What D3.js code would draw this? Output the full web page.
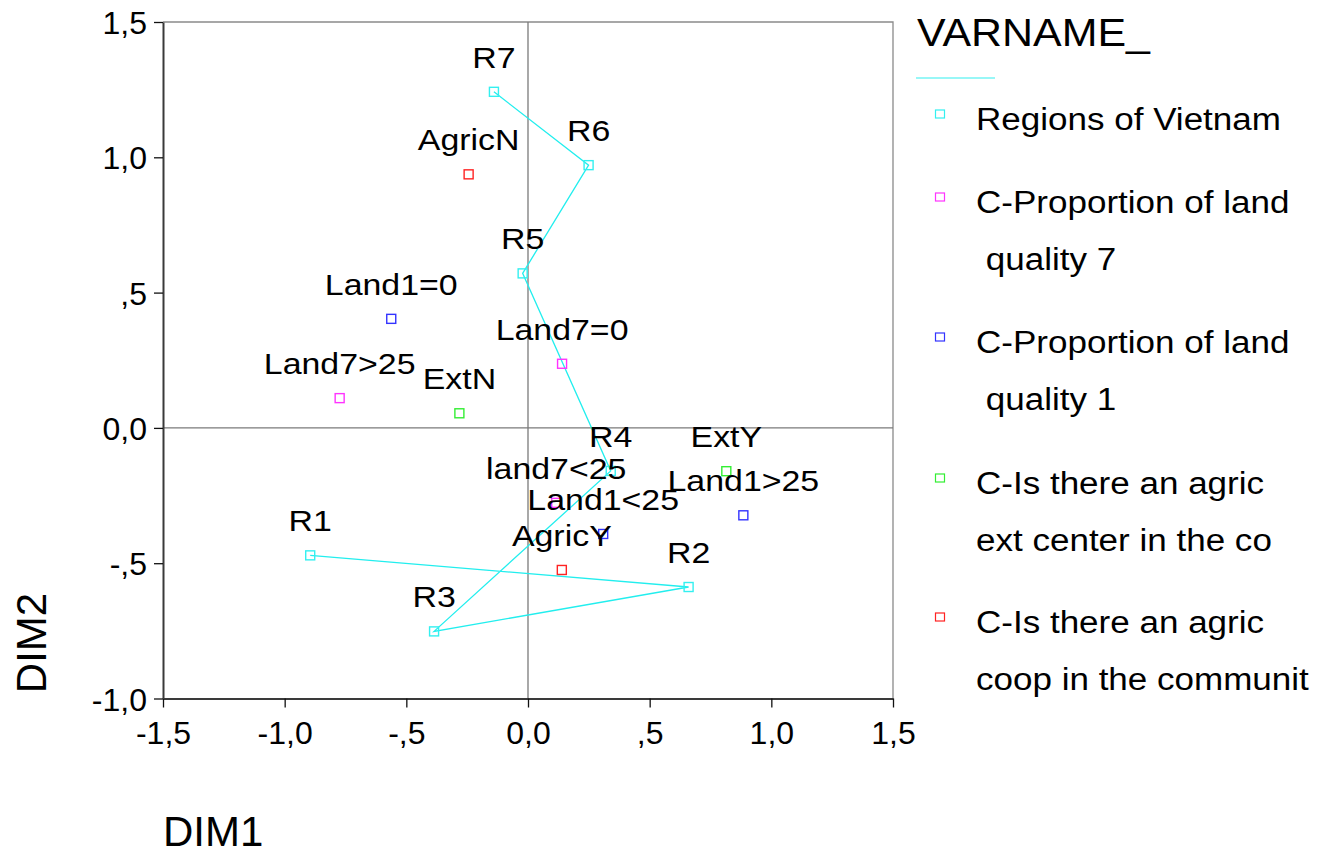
<!DOCTYPE html>
<html>
<head>
<meta charset="utf-8">
<script src="https://cdn.jsdelivr.net/npm/d3@7"></script>
<style>
  html, body { margin: 0; padding: 0; background: #fff; }
  svg text { font-family: "Liberation Sans", Arial, sans-serif; fill: #000; }
</style>
</head>
<body>
<svg id="chart" width="1322" height="857"></svg>
<script>
// Correspondence analysis: object scores on two dimensions
const regionNames = ["R1", "R2", "R3", "R4", "R5", "R6", "R7"];
const regionDim1  = [-0.895, 0.660, -0.386, 0.340, -0.022, 0.249, -0.140];
const regionDim2  = [-0.471, -0.588, -0.752, -0.159, 0.571, 0.971, 1.242];

const land7Names = ["Land7=0", "Land7>25", "land7<25"];
const land7Dim1  = [0.140, -0.774, 0.116];
const land7Dim2  = [0.237, 0.110, -0.277];

const land1Names = ["Land1=0", "Land1<25", "Land1>25"];
const land1Dim1  = [-0.562, 0.309, 0.885];
const land1Dim2  = [0.403, -0.392, -0.323];

const extNames = ["ExtN", "ExtY"];
const extDim1  = [-0.282, 0.815];
const extDim2  = [0.054, -0.160];

const coopNames = ["AgricN", "AgricY"];
const coopDim1  = [-0.244, 0.139];
const coopDim2  = [0.937, -0.525];

const xTickValues = [-1.5, -1.0, -0.5, 0.0, 0.5, 1.0, 1.5];
const xTickLabels = ["-1,5", "-1,0", "-,5", "0,0", ",5", "1,0", "1,5"];
const yTickValues = [-1.0, -0.5, 0.0, 0.5, 1.0, 1.5];
const yTickLabels = ["-1,0", "-,5", "0,0", ",5", "1,0", "1,5"];

const legendTitle = "VARNAME_";
const legendItems = [
  ["Regions of Vietnam"],
  ["C-Proportion of land", " quality 7"],
  ["C-Proportion of land", " quality 1"],
  ["C-Is there an agric", "ext center in the co"],
  ["C-Is there an agric", "coop in the communit"]
];
const seriesColors = ["#33f0f0", "#ff33ff", "#3333ff", "#33ee33", "#ff2222"];

const series = [
  { names: regionNames, d1: regionDim1, d2: regionDim2, color: seriesColors[0] },
  { names: land7Names,  d1: land7Dim1,  d2: land7Dim2,  color: seriesColors[1] },
  { names: land1Names,  d1: land1Dim1,  d2: land1Dim2,  color: seriesColors[2] },
  { names: extNames,    d1: extDim1,    d2: extDim2,    color: seriesColors[3] },
  { names: coopNames,   d1: coopDim1,   d2: coopDim2,   color: seriesColors[4] }
];

const plotLeft = 163, plotRight = 893, plotTop = 22, plotBottom = 698.5;
const x = d3.scaleLinear().domain([-1.5, 1.5]).range([plotLeft, plotRight]);
const y = d3.scaleLinear().domain([-1.0, 1.5]).range([plotBottom, plotTop]);

const svg = d3.select("#chart");
const stretch = 1.13;

// plot frame (top and right edges)
svg.append("path")
  .attr("d", `M${plotLeft},${plotTop}H${plotRight}V${plotBottom}`)
  .attr("fill", "none").attr("stroke", "#8a8a8a").attr("stroke-width", 1.3);

// reference lines through the origin
svg.append("line")
  .attr("x1", x(0)).attr("x2", x(0)).attr("y1", plotTop).attr("y2", plotBottom)
  .attr("stroke", "#7a7a7a").attr("stroke-width", 1.3);
svg.append("line")
  .attr("x1", plotLeft).attr("x2", plotRight).attr("y1", y(0)).attr("y2", y(0))
  .attr("stroke", "#7a7a7a").attr("stroke-width", 1.3);

// axes
const xAxis = d3.axisBottom(x).tickValues(xTickValues)
  .tickFormat((d, i) => xTickLabels[i]).tickSizeInner(9).tickSizeOuter(0).tickPadding(6);
const yAxis = d3.axisLeft(y).tickValues(yTickValues)
  .tickFormat((d, i) => yTickLabels[i]).tickSizeInner(9).tickSizeOuter(0).tickPadding(6);

const gx = svg.append("g").attr("transform", `translate(0,${plotBottom})`).call(xAxis);
const gy = svg.append("g").attr("transform", `translate(${plotLeft},0)`).call(yAxis);
[gx, gy].forEach(g => {
  g.select(".domain").attr("stroke", "#3a3a3a").attr("stroke-width", 2);
  g.selectAll(".tick line").attr("stroke", "#111").attr("stroke-width", 1.3);
  g.selectAll(".tick text").attr("font-size", 32)
    .attr("font-family", "'Liberation Sans', Arial, sans-serif").attr("fill", "#000");
});
gx.selectAll(".tick text").attr("dy", "0.95em");
gy.selectAll(".tick text").attr("dy", "0.36em").attr("x", -16);

// axis titles
svg.append("text").attr("x", 163).attr("y", 846)
  .attr("font-size", 42).text("DIM1");
svg.append("text")
  .attr("transform", "translate(46,643) rotate(-90)")
  .attr("text-anchor", "middle").attr("font-size", 42).text("DIM2");

// path joining the regions in order
const line = d3.line().x(i => x(regionDim1[i])).y(i => y(regionDim2[i]));
svg.append("path")
  .attr("d", line(d3.range(regionNames.length)))
  .attr("fill", "none").attr("stroke", "#22eeee").attr("stroke-width", 1.3);

// markers
const ms = 9;
series.forEach(s => {
  svg.append("g").selectAll("rect")
    .data(s.names.map((n, i) => ({ n, a: s.d1[i], b: s.d2[i] })))
    .join("rect")
    .attr("x", d => x(d.a) - ms / 2).attr("y", d => y(d.b) - ms / 2)
    .attr("width", ms).attr("height", ms)
    .attr("fill", "none").attr("stroke", s.color).attr("stroke-width", 1.4);
});

// point labels
series.forEach(s => {
  svg.append("g").selectAll("text")
    .data(s.names.map((n, i) => ({ n, a: s.d1[i], b: s.d2[i] })))
    .join("text")
    .attr("transform", d => `translate(${x(d.a)},${y(d.b) - 24}) scale(${stretch},1)`)
    .attr("text-anchor", "middle").attr("font-size", 30)
    .text(d => d.n);
});

// legend
const lg = svg.append("g");
lg.append("text")
  .attr("transform", `translate(917,46) scale(${stretch},1)`)
  .attr("font-size", 38).text(legendTitle);
lg.append("line").attr("x1", 916).attr("x2", 995).attr("y1", 78).attr("y2", 78)
  .attr("stroke", "#33f0f0").attr("stroke-width", 1.2);

const markerY = [114, 197, 337, 478, 617];
legendItems.forEach((lines, k) => {
  lg.append("rect")
    .attr("x", 940 - 4.5).attr("y", markerY[k] - 4)
    .attr("width", 9).attr("height", 8)
    .attr("fill", "none").attr("stroke", seriesColors[k]).attr("stroke-width", 1.2);
  lines.forEach((t, j) => {
    lg.append("text")
      .attr("transform", `translate(976,${markerY[k] + 16 + j * 57}) scale(${stretch},1)`)
      .attr("font-size", 31).style("white-space", "pre").text(t);
  });
});
</script>
</body>
</html>
